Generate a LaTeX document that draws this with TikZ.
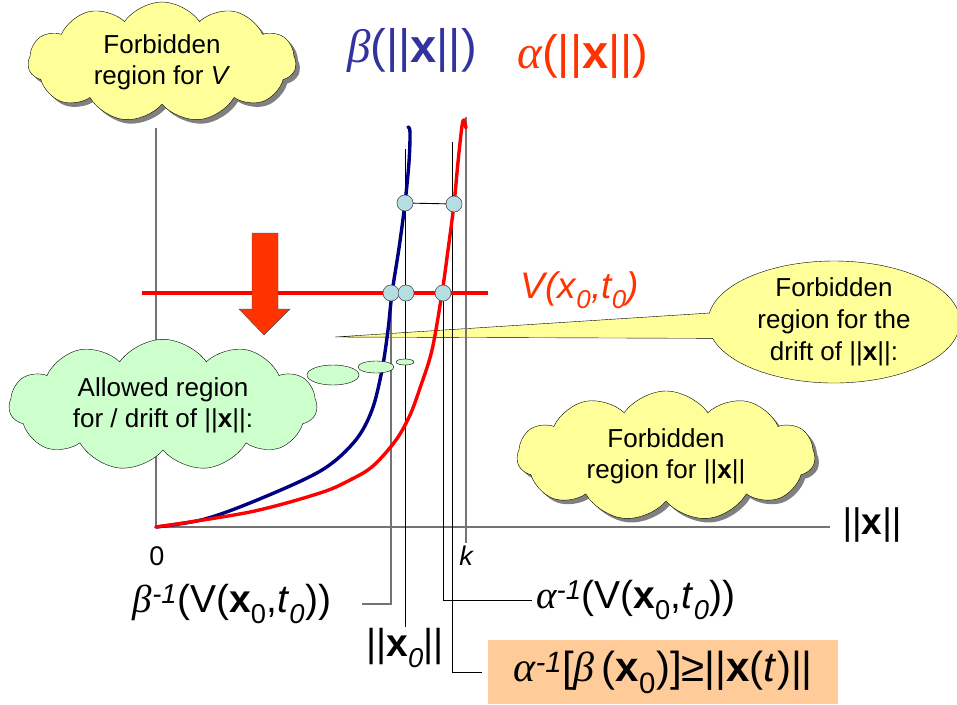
\documentclass[tikz,border=0pt]{standalone}
\usepackage{fontspec}
\setmainfont{Liberation Sans}
\newfontfamily\grkfont{Liberation Serif}
\usepackage{xcolor}
\definecolor{CloudYellow}{RGB}{255,255,153}
\definecolor{CloudGreen}{RGB}{204,255,204}
\definecolor{DotCyan}{RGB}{180,222,226}
\definecolor{BoxOrange}{RGB}{255,204,153}
\definecolor{BetaBlue}{RGB}{51,51,160}
\definecolor{AlphaRed}{RGB}{255,51,0}
\definecolor{NavyCurve}{RGB}{0,0,128}
\usetikzlibrary{positioning,shapes.symbols,shapes.callouts,shapes.geometric,shadows}
\newcommand{\betag}{{\grkfont\itshape β}}
\newcommand{\alphag}{{\grkfont\itshape α}}

\begin{document}
\begin{tikzpicture}[x=1pt, y=-1pt,
    cloudy/.style={cloud, cloud puffs=11, cloud puff arc=110, draw=black, thin, fill=CloudYellow,
              inner sep=0pt, align=center, font=\fontsize{26}{31}\selectfont},
    shad/.style={drop shadow={shadow xshift=4pt, shadow yshift=-4pt, fill=black!50, opacity=1}},
    dot/.style={circle, draw=black!75, fill=DotCyan, minimum size=16pt, inner sep=0pt},
    bubble/.style={ellipse, draw=black, thin, fill=CloudGreen, inner sep=0pt},
    big/.style={font=\fontsize{39}{44}\selectfont, inner sep=1pt},
    lead/.style={draw=black, line width=0.9pt},
    leadg/.style={draw=black!55, line width=1.2pt},
    axis/.style={draw=black!55, line width=1.3pt},
    crv/.style={line width=3.4pt, line join=round, line cap=round}
]
    \useasboundingbox (0,0) rectangle (957,704);

    \coordinate (O) at (156,527);
    \coordinate (ytop) at (156,128);
    \coordinate (xend) at (830,527);
    \draw[axis] (ytop) -- (O) -- (xend);
    \node[font=\fontsize{37}{40}\selectfont] (xlab) at (872,525) {||\textbf{x}||};
    \node[font=\fontsize{27}{30}\selectfont] (zero) at (157,556) {0};
    \node[font=\fontsize{27}{30}\selectfont\itshape] (klab) at (466,556) {k};

    \coordinate (tip) at (335,337);
    \node[ellipse callout, draw=black, thin, fill=CloudYellow, callout absolute pointer=(tip),
          callout pointer arc=24, minimum width=252pt, minimum height=122pt, inner xsep=0pt,
          inner ysep=-6pt, align=center, font=\fontsize{26}{32}\selectfont] (drift) at (834,322)
          {Forbidden\\region for the\\drift of ||\textbf{x}||:};

    \node[big] (binv) at (232,604) {\betag\textsuperscript{\itshape -1}(V(\textbf{x}\textsubscript{0},\textit{t}\textsubscript{\itshape 0}))};
    \node[big] (x0lab) at (405,648) {||\textbf{x}\textsubscript{\itshape 0}||};
    \node[big, anchor=west] (ainv) at (535,600) {\alphag\textsuperscript{\itshape -1}(V(\textbf{x}\textsubscript{0},\textit{t}\textsubscript{\itshape 0}))};
    \node[fill=BoxOrange, minimum width=350pt, minimum height=64pt, anchor=west, inner sep=0pt,
          font=\fontsize{42}{46}\selectfont] (bound) at (488,672)
          {\alphag\textsuperscript{\itshape -1}[\betag\,(\textbf{x}\textsubscript{0})]≥||\textbf{x}(\textit{t})||};

    \coordinate (top1) at (405,149);
    \coordinate (top2) at (452,142);
    \coordinate (ktop) at (466,117);
    \node[dot] (p1) at (405,203) {};
    \node[dot] (p2) at (454,204) {};
    \node[dot] (q1) at (391,293) {};
    \node[dot] (q2) at (406,293) {};
    \node[dot] (q3) at (443,293) {};

    \draw[leadg] (ktop) -- (klab.north);
    \draw[lead] (top1) -- (x0lab.north);
    \draw[lead] (top2) |- ([xshift=-6pt]bound.west);
    \draw[leadg] (q1.center) |- ([xshift=30pt]binv.east);
    \draw[lead] (q3.center) |- ([xshift=-3pt]ainv.west);
    \draw[lead] (p1) -- (p2);

    \draw[crv, NavyCurve] plot[smooth, tension=0.55] coordinates {(156,527) (205,519) (262,498) (322,470)
        (355,441) (372,410) (382,370) (388,330) (392,293) (399,248) (405,203) (409,162) (410,132) (408,127)};
    \draw[crv, red] plot[smooth, tension=0.55] coordinates {(156,527) (250,512) (320,493) (350,480)
        (373,466) (396,440) (410,415) (420,388) (432,350) (442,293) (448,250) (454,204) (458,162)
        (462,126) (464,120) (466,128)};

    \coordinate (vleft) at (142,293);
    \coordinate (vright) at (488,293);
    \draw[red, line width=3.4pt] (vleft) -- (vright);
    \node[text=AlphaRed, font=\fontsize{37}{40}\selectfont\itshape] (vlab) at (580,290)
          {V(x\textsubscript{0},t\textsubscript{0})};

    \foreach \d in {p1,p2,q1,q2,q3}
        \node[dot] at (\d) {};

    \node[cloudy, shad, aspect=2.2, minimum width=268pt, minimum height=120pt] (fv) at (162,62)
          {Forbidden\\region for \textit{V}};
    \node[cloudy, shad, aspect=2.3, minimum width=298pt, minimum height=130pt] (fx) at (666,456)
          {Forbidden\\region for ||\textbf{x}||};
    \node[cloudy, fill=CloudGreen, aspect=2.6, minimum width=308pt, minimum height=112pt] (allowed) at (163,405)
          {Allowed region\\for / drift of ||\textbf{x}||:};
    \node[bubble, minimum width=52pt, minimum height=20pt] (b1) at (333,375) {};
    \node[bubble, minimum width=36pt, minimum height=12pt] (b2) at (376,367) {};
    \node[bubble, minimum width=18pt, minimum height=6pt] (b3) at (405,362) {};

    \filldraw[fill=AlphaRed, draw=black!70, thin] (252,233) -- (278,233) -- (278,309) -- (290,309)
        -- (264,335) -- (239,309) -- (252,309) -- cycle;

    \node[text=BetaBlue, font=\fontsize{47}{50}\selectfont] (blab) at (412,50) {\betag(||\textbf{x}||)};
    \node[text=AlphaRed, font=\fontsize{47}{50}\selectfont] (alab) at (583,56) {\alphag(||\textbf{x}||)};
\end{tikzpicture}
\end{document}
